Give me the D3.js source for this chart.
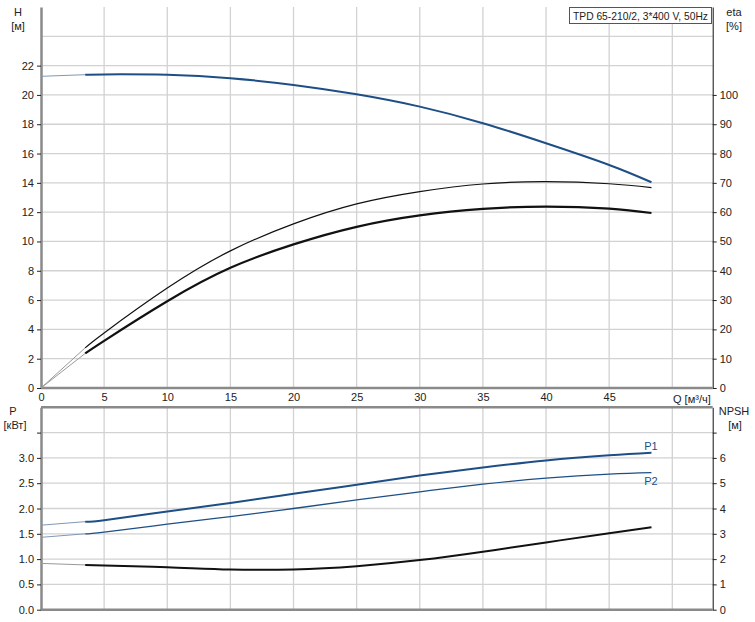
<!DOCTYPE html>
<html><head><meta charset="utf-8">
<script src="https://cdn.jsdelivr.net/npm/d3@7"></script>
<style>
body{margin:0;background:#fff;}
text{font-family:"Liberation Sans",Arial,sans-serif;font-size:11px;fill:#222;}
</style></head>
<body><svg id="c" width="755" height="622"></svg>
<script>
// ---- data ----
const Q      = [0, 3.5, 5, 10, 15, 20, 25, 30, 35, 40, 45, 48.35];
const H      = [21.27, 21.38, 21.40, 21.37, 21.14, 20.68, 20.04, 19.2, 18.07, 16.7, 15.22, 14.04];
const etaA   = [0, 13.7, 18.8, 34.1, 46.8, 56.0, 62.8, 67.0, 69.6, 70.4, 69.7, 68.4];
const etaB   = [0, 11.8, 16.1, 29.6, 41.0, 49.0, 55.0, 58.9, 61.1, 61.9, 61.2, 59.7];
const P1     = [1.67, 1.74, 1.77, 1.94, 2.11, 2.29, 2.47, 2.65, 2.81, 2.95, 3.05, 3.10];
const P2     = [1.43, 1.50, 1.535, 1.69, 1.84, 2.00, 2.17, 2.33, 2.48, 2.60, 2.68, 2.71];
const NPSH   = [1.83, 1.77, 1.75, 1.68, 1.59, 1.59, 1.72, 1.96, 2.29, 2.66, 3.02, 3.26];
const qTicks    = [0, 5, 10, 15, 20, 25, 30, 35, 40, 45];
const qGrid     = [5, 10, 15, 20, 25, 30, 35, 40, 45, 50];
const hTicks    = [0, 2, 4, 6, 8, 10, 12, 14, 16, 18, 20, 22];
const hGrid     = [2, 4, 6, 8, 10, 12, 14, 16, 18, 20, 22, 24];
const etaTicks  = [0, 10, 20, 30, 40, 50, 60, 70, 80, 90, 100];
const pTicks    = [0, 0.5, 1.0, 1.5, 2.0, 2.5, 3.0, 3.5];
const pLabels   = [0, 0.5, 1.0, 1.5, 2.0, 2.5, 3.0];
const nTicks    = [0, 1, 2, 3, 4, 5, 6, 7];
const nLabels   = [0, 1, 2, 3, 4, 5, 6];
const title = "TPD 65-210/2, 3*400 V, 50Hz";
const qStart = 3.5;

// ---- scales ----
const L = 41, R = 712.7;
const x = d3.scaleLinear().domain([0, 53.2]).range([L, R]);
const yH = d3.scaleLinear().domain([0, 26]).range([388, 7]);
const yE = d3.scaleLinear().domain([0, 130]).range([388, 7]);
const yP = d3.scaleLinear().domain([0, 4]).range([609.7, 407.3]);
const yN = d3.scaleLinear().domain([0, 8]).range([609.7, 407.3]);

const svg = d3.select("#c");
const gridC = "#d2d2d2", axisC = "#8a8a8a", blue = "#1d4f86";

function grid(yScale, vals, top, bottom) {
  const g = svg.append("g");
  g.selectAll(".v").data(qGrid).join("line")
    .attr("x1", d => x(d)).attr("x2", d => x(d))
    .attr("y1", top).attr("y2", bottom)
    .attr("stroke", gridC).attr("stroke-width", 1.3);
  g.selectAll(".h").data(vals).join("line")
    .attr("x1", L).attr("x2", R)
    .attr("y1", d => yScale(d)).attr("y2", d => yScale(d))
    .attr("stroke", gridC).attr("stroke-width", 1.3);
}
grid(yH, hGrid, 7, 388);
grid(yP, pTicks.slice(1), 407.3, 609.7);

// ---- axes ----
function styleAxis(g, col, w) {
  g.select(".domain").attr("stroke", col).attr("stroke-width", w);
  g.selectAll(".tick line").attr("stroke", "#222");
  g.selectAll(".tick text").attr("fill", "#222").style("font-size", "11px");
}
const gHL = svg.append("g").attr("transform", `translate(${L},0)`)
  .call(d3.axisLeft(yH).tickValues(hTicks).tickSize(4).tickSizeOuter(0).tickPadding(3));
styleAxis(gHL, axisC, 2.5);
const gER = svg.append("g").attr("transform", `translate(${R},0)`)
  .call(d3.axisRight(yE).tickValues(etaTicks).tickSize(4).tickSizeOuter(0).tickPadding(3));
styleAxis(gER, "#111", 1);
const gX = svg.append("g").attr("transform", `translate(0,388)`)
  .call(d3.axisBottom(x).tickValues(qTicks).tickSize(0).tickSizeOuter(0).tickPadding(5));
styleAxis(gX, axisC, 2.5);
gX.select(".domain").attr("d", `M${L},0H${R}`);

const gPL = svg.append("g").attr("transform", `translate(${L},0)`)
  .call(d3.axisLeft(yP).tickValues(pTicks).tickSize(4).tickSizeOuter(0).tickPadding(3)
    .tickFormat(d => pLabels.includes(d) ? d3.format(".1f")(d) : ""));
styleAxis(gPL, axisC, 2.5);
const gNR = svg.append("g").attr("transform", `translate(${R},0)`)
  .call(d3.axisRight(yN).tickValues(nTicks).tickSize(4).tickSizeOuter(0).tickPadding(3)
    .tickFormat(d => nLabels.includes(d) ? d : ""));
styleAxis(gNR, "#111", 1);
svg.append("line").attr("x1", L).attr("x2", R).attr("y1", 407.3).attr("y2", 407.3)
  .attr("stroke", axisC).attr("stroke-width", 2.5);
svg.append("line").attr("x1", L).attr("x2", R).attr("y1", 609.7).attr("y2", 609.7)
  .attr("stroke", axisC).attr("stroke-width", 2.5);

// ---- curves ----
function draw(vals, ys, color, w, thinColor) {
  const pts = Q.map((q, i) => [q, vals[i]]);
  const lineThin = d3.line().x(d => x(d[0])).y(d => ys(d[1]));
  const line = d3.line().x(d => x(d[0])).y(d => ys(d[1])).curve(d3.curveNatural);
  svg.append("path").datum(pts.filter(d => d[0] <= qStart)).attr("d", lineThin)
    .attr("fill", "none").attr("stroke", thinColor).attr("stroke-width", 1);
  svg.append("path").datum(pts.filter(d => d[0] >= qStart)).attr("d", line)
    .attr("fill", "none").attr("stroke", color).attr("stroke-width", w);
}
draw(H, yH, blue, 2, "#7f98b6");
draw(etaA, yE, "#111", 1.2, "#999");
draw(etaB, yE, "#111", 2.2, "#999");
draw(P1, yP, blue, 2, "#7f98b6");
draw(P2, yP, blue, 1.3, "#7f98b6");
draw(NPSH, yN, "#111", 2, "#999");

// ---- labels ----
function txt(s, xx, yy, anchor, col) {
  return svg.append("text").attr("x", xx).attr("y", yy).attr("text-anchor", anchor || "middle")
    .attr("dominant-baseline", "central").style("fill", col || "#222").text(s);
}
txt("H", 18, 12); txt("[м]", 18, 26);
txt("eta", 734, 12); txt("[%]", 734, 26);
txt("P", 13, 411); txt("[кВт]", 15, 425);
txt("NPSH", 734, 411); txt("[м]", 735, 425);
txt("Q [м³/ч]", 673, 398.5, "start");
txt("P1", 651, 446, "middle", blue);
txt("P2", 651, 481, "middle", blue);

// title box
svg.append("rect").attr("x", 569.5).attr("y", 7.5).attr("width", 142).attr("height", 16)
  .attr("fill", "#fff").attr("stroke", "#555").attr("stroke-width", 1);
txt(title, 573, 16, "start").attr("textLength", 135).attr("lengthAdjust", "spacingAndGlyphs");
</script></body></html>
